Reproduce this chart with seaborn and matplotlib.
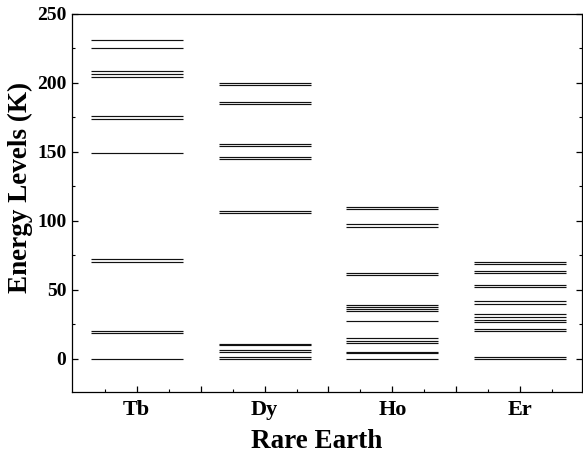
import numpy as np
import pandas as pd
import matplotlib
matplotlib.use("Agg")
import matplotlib.pyplot as plt
from matplotlib.ticker import FixedLocator, MultipleLocator
import seaborn as sns

# Crystal-field energy levels (K) for each rare-earth ion
elements = ["Tb", "Dy", "Ho", "Er"]
tb_levels = [0, 18.6, 20.5, 70.5, 72.5, 149, 174.1, 176, 204.6, 206.7, 208.9, 225.6, 231.5]
dy_levels = [0, 1.0, 5.1, 6.5, 9.7, 11.1, 106.0, 107.4, 145.1, 146.6, 154.1, 155.6,
             184.5, 186.0, 198.6, 200.0]
ho_levels = [0, 3.9, 5.3, 11.6, 13.3, 15.0, 27.8, 34.5, 36.0, 37.7, 39.1, 60.9, 62.5,
             95.9, 97.6, 108.9, 110.4]
er_levels = [0, 1.7, 20.5, 22.0, 27.0, 28.3, 30.7, 32.4, 40.1, 41.8, 52.0, 53.9,
             62.5, 64.0, 68.6, 70.0]

df = pd.DataFrame({
    "Rare Earth": (["Tb"] * len(tb_levels) + ["Dy"] * len(dy_levels)
                   + ["Ho"] * len(ho_levels) + ["Er"] * len(er_levels)),
    "Energy": tb_levels + dy_levels + ho_levels + er_levels,
})

sns.set_style("ticks")
plt.rcParams["font.family"] = ["Liberation Serif", "DejaVu Serif"]
plt.rcParams["font.weight"] = "bold"
plt.rcParams["text.color"] = "black"
plt.rcParams["axes.labelcolor"] = "black"

fig = plt.figure(figsize=(5.83, 4.59), dpi=100)
ax = fig.add_axes([0.1235, 0.146, 0.8755, 0.8235])

sns.stripplot(data=df, x="Rare Earth", y="Energy", order=elements, jitter=False,
              marker="_", size=66, linewidth=0.85, color="#111111", ax=ax)

ax.set_xlim(-0.505, 3.485)
ax.set_ylim(-24, 250)

# x ticks: labelled at each element, unlabelled halfway marks, minor quarter marks
major_pos = np.arange(0, len(elements) - 0.99, 0.5)
major_labels = []
for i in range(len(major_pos)):
    major_labels.append(elements[i // 2] if i % 2 == 0 else "")
ax.xaxis.set_major_locator(FixedLocator(major_pos))
ax.set_xticklabels(major_labels)
ax.xaxis.set_minor_locator(FixedLocator(np.arange(-0.25, 3.5, 0.5)))

ax.yaxis.set_major_locator(FixedLocator([0, 50, 100, 150, 200, 250]))
ax.yaxis.set_minor_locator(MultipleLocator(25))

ax.tick_params(axis="both", which="both", direction="in", colors="black")
ax.tick_params(axis="both", which="major", length=4, width=0.9)
ax.tick_params(axis="both", which="minor", length=2.2, width=0.8)
ax.tick_params(axis="y", which="both", right=True, labelright=False, pad=4,
               labelsize=14)
ax.tick_params(axis="x", which="both", top=False, pad=6, labelsize=16)

for s in ax.spines.values():
    s.set_visible(True)
    s.set_linewidth(0.9)
    s.set_color("black")

ax.set_xlabel("Rare Earth", fontsize=19.5, fontweight="bold")
ax.set_ylabel("Energy Levels (K)", fontsize=19.5, fontweight="bold")
ax.xaxis.set_label_coords(0.48, -0.098)
ax.yaxis.set_label_coords(-0.076, 0.542)

fig.savefig("out.png", dpi=100)
